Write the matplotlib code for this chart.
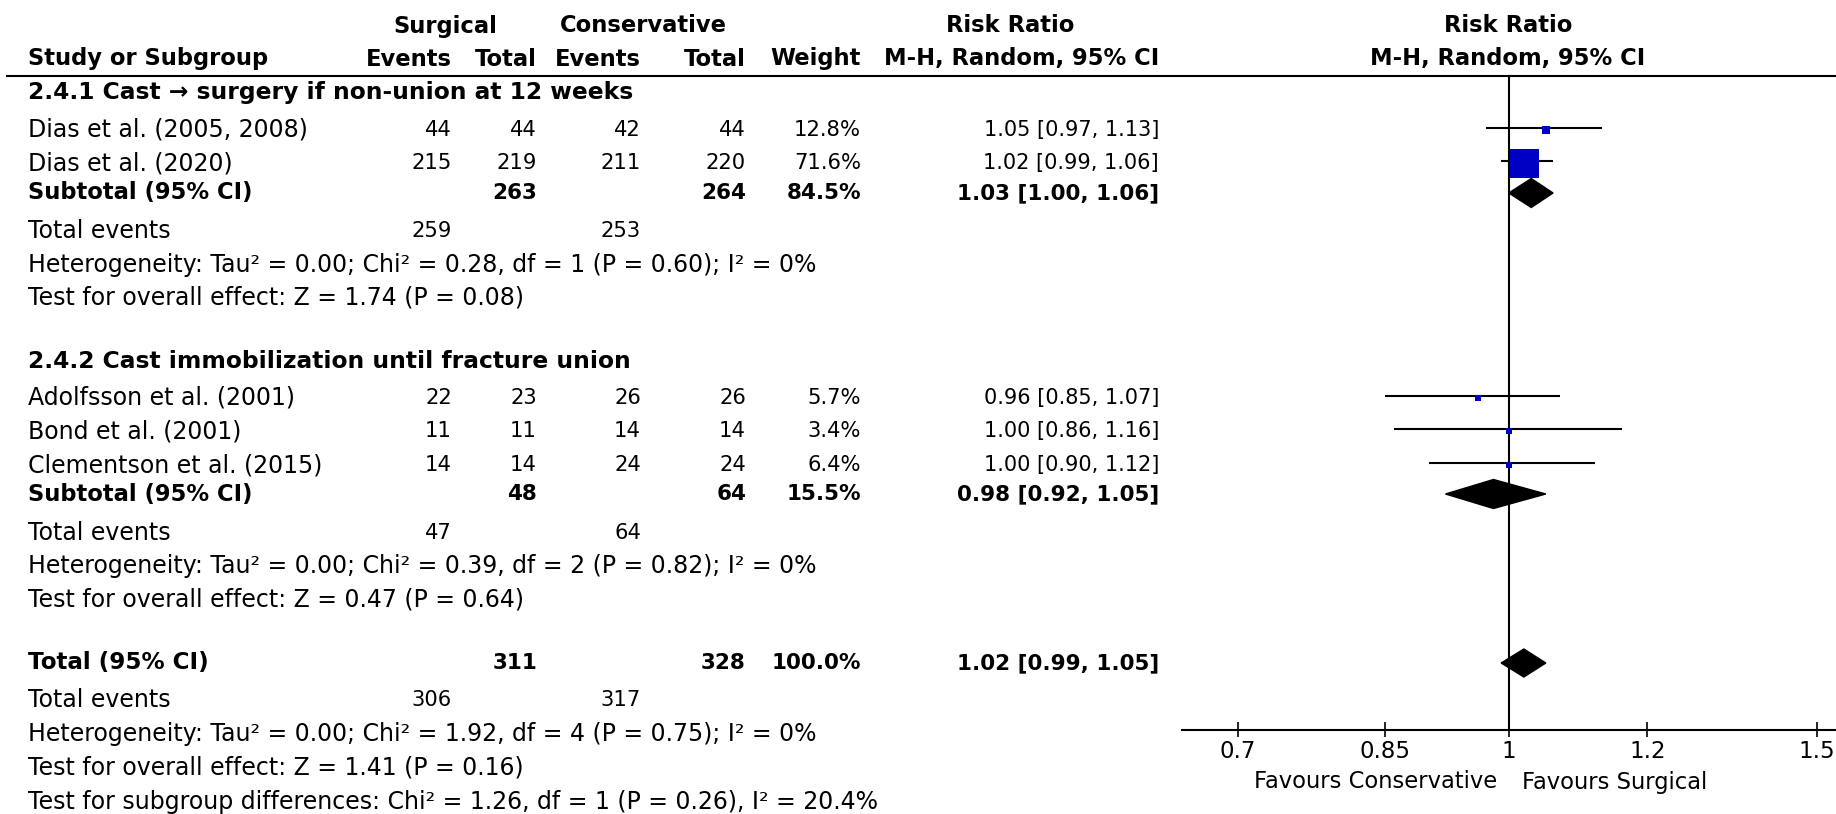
import numpy as np
import matplotlib
matplotlib.use("Agg")
import matplotlib.pyplot as plt
from matplotlib.patches import Polygon
from matplotlib.lines import Line2D

plt.rcParams['font.family'] = ['DejaVu Sans']

# study level data
studies = ["Dias et al. (2005, 2008)", "Dias et al. (2020)",
           "Adolfsson et al. (2001)", "Bond et al. (2001)", "Clementson et al. (2015)"]
surg_events = [44, 215, 22, 11, 14]
surg_total = [44, 219, 23, 11, 14]
cons_events = [42, 211, 26, 14, 24]
cons_total = [44, 220, 26, 14, 24]
weights = [12.8, 71.6, 5.7, 3.4, 6.4]
rr = [1.05, 1.02, 0.96, 1.00, 1.00]
rr_lo = [0.97, 0.99, 0.85, 0.86, 0.90]
rr_hi = [1.13, 1.06, 1.07, 1.16, 1.12]

# subgroups
groups = ["2.4.1 Cast \u2192 surgery if non-union at 12 weeks",
          "2.4.2 Cast immobilization until fracture union"]
group_studies = [[0, 1], [2, 3, 4]]
sub_surg_total = [263, 48]
sub_cons_total = [264, 64]
sub_weight = [84.5, 15.5]
sub_rr = [1.03, 0.98]
sub_lo = [1.00, 0.92]
sub_hi = [1.06, 1.05]
sub_surg_events = [259, 47]
sub_cons_events = [253, 64]
sub_tau2 = [0.00, 0.00]
sub_chi2 = [0.28, 0.39]
sub_df = [1, 2]
sub_p_het = [0.60, 0.82]
sub_i2 = [0, 0]
sub_z = [1.74, 0.47]
sub_p_z = [0.08, 0.64]

# overall
tot_surg_total, tot_cons_total = 311, 328
tot_rr, tot_lo, tot_hi = 1.02, 0.99, 1.05
tot_surg_events, tot_cons_events = 306, 317
tot_tau2, tot_chi2, tot_df, tot_p_het, tot_i2 = 0.00, 1.92, 4, 0.75, 0
tot_z, tot_p_z = 1.41, 0.16
diff_chi2, diff_df, diff_p, diff_i2 = 1.26, 1, 0.26, 20.4

ticks = [0.7, 0.85, 1, 1.2, 1.5]
tick_labels = ["0.7", "0.85", "1", "1.2", "1.5"]

# ---- layout (pixel rows / columns) ----
W, H = 1836, 814
col_name, col_se, col_st, col_ce, col_ct, col_w, col_rr = 28, 452, 537, 641, 746, 861, 1159
y_head1, y_head2, y_line = 26, 59, 76
y_group = [92, 361]
y_study = [[130, 163], [398, 431, 465]]
y_sub = [193, 494]
y_events = [231, 533]
y_het = [265, 566]
y_test = [298, 600]
y_total, y_tot_events, y_tot_het, y_tot_test, y_diff = 663, 700, 734, 768, 802
y_axis = 730
fs_lab = 17       # plain labels
fs_num = 15.2     # numbers
fs_rr = 15        # plain risk ratio text
fs_head = 16.3    # bold headers
fs_grp = 16.8     # subgroup titles
blue = '#0000C4'

fig = plt.figure(figsize=(W / 100, H / 100), dpi=100)
tab = fig.add_axes([0, 0, 1, 1])
tab.set_xlim(0, W)
tab.set_ylim(H, 0)
tab.axis('off')

x0 = 1181.6
fa = fig.add_axes([x0 / W, 0, 1 - x0 / W, 1])
fa.set_xscale('log')
fa.set_xlim(0.65, 1 / 0.65)
fa.set_ylim(H, 0)
fa.axis('off')


def txt(x, y, s, ha='left', bold=False, size=fs_num):
    tab.text(x, y, s, ha=ha, va='center', fontsize=size,
             fontweight='bold' if bold else 'normal', color='black')


def ci(lo, est, hi):
    return f"{est:.2f} [{lo:.2f}, {hi:.2f}]"


# headers
txt(445, y_head1, "Surgical", ha='center', bold=True, size=fs_head)
txt(643, y_head1, "Conservative", ha='center', bold=True, size=fs_head)
txt(1010, y_head1, "Risk Ratio", ha='center', bold=True, size=fs_head)
txt(1508, y_head1, "Risk Ratio", ha='center', bold=True, size=fs_head)
txt(col_name, y_head2, "Study or Subgroup", bold=True, size=fs_head)
txt(col_se, y_head2, "Events", ha='right', bold=True, size=fs_head)
txt(col_st, y_head2, "Total", ha='right', bold=True, size=fs_head)
txt(col_ce, y_head2, "Events", ha='right', bold=True, size=fs_head)
txt(col_ct, y_head2, "Total", ha='right', bold=True, size=fs_head)
txt(col_w, y_head2, "Weight", ha='right', bold=True, size=fs_head)
txt(col_rr, y_head2, "M-H, Random, 95% CI", ha='right', bold=True, size=fs_head)
txt(1508, y_head2, "M-H, Random, 95% CI", ha='center', bold=True, size=fs_head)
fig.add_artist(Line2D([7 / W, 1], [1 - y_line / H] * 2, color='black', lw=1.5))

for g in range(len(groups)):
    txt(col_name, y_group[g], groups[g], bold=True, size=fs_grp)
    for k, i in enumerate(group_studies[g]):
        y = y_study[g][k]
        txt(col_name, y, studies[i], size=fs_lab)
        txt(col_se, y, str(surg_events[i]), ha='right')
        txt(col_st, y, str(surg_total[i]), ha='right')
        txt(col_ce, y, str(cons_events[i]), ha='right')
        txt(col_ct, y, str(cons_total[i]), ha='right')
        txt(col_w, y, f"{weights[i]:.1f}%", ha='right')
        txt(col_rr, y, ci(rr_lo[i], rr[i], rr_hi[i]), ha='right', size=fs_rr)
        fa.plot([rr_lo[i], rr_hi[i]], [y - 2.5, y - 2.5], color='black', lw=1.5,
                solid_capstyle='butt')
        side = max(6.5, 29 * (weights[i] / 71.6) ** 0.68) * 0.72
        fa.scatter([rr[i]], [y], marker='s', s=side ** 2, color=blue,
                   linewidths=0, zorder=3)
    y = y_sub[g]
    txt(col_name, y, "Subtotal (95% CI)", bold=True, size=fs_head)
    txt(col_st, y, str(sub_surg_total[g]), ha='right', bold=True, size=15.5)
    txt(col_ct, y, str(sub_cons_total[g]), ha='right', bold=True, size=15.5)
    txt(col_w, y, f"{sub_weight[g]:.1f}%", ha='right', bold=True, size=15.5)
    txt(col_rr, y, ci(sub_lo[g], sub_rr[g], sub_hi[g]), ha='right', bold=True, size=15.5)
    fa.add_patch(Polygon([(sub_lo[g], y), (sub_rr[g], y - 14.5),
                          (sub_hi[g], y), (sub_rr[g], y + 14.5)],
                         closed=True, color='black', zorder=3))
    txt(col_name, y_events[g], "Total events", size=fs_lab)
    txt(col_se, y_events[g], str(sub_surg_events[g]), ha='right')
    txt(col_ce, y_events[g], str(sub_cons_events[g]), ha='right')
    txt(col_name, y_het[g],
        f"Heterogeneity: Tau\u00b2 = {sub_tau2[g]:.2f}; Chi\u00b2 = {sub_chi2[g]:.2f}, "
        f"df = {sub_df[g]} (P = {sub_p_het[g]:.2f}); I\u00b2 = {sub_i2[g]}%", size=fs_lab)
    txt(col_name, y_test[g],
        f"Test for overall effect: Z = {sub_z[g]:.2f} (P = {sub_p_z[g]:.2f})", size=fs_lab)

# overall rows
txt(col_name, y_total, "Total (95% CI)", bold=True, size=16.6)
txt(col_st, y_total, str(tot_surg_total), ha='right', bold=True, size=15.5)
txt(col_ct, y_total, str(tot_cons_total), ha='right', bold=True, size=15.5)
txt(col_w, y_total, "100.0%", ha='right', bold=True, size=15.5)
txt(col_rr, y_total, ci(tot_lo, tot_rr, tot_hi), ha='right', bold=True, size=15.5)
fa.add_patch(Polygon([(tot_lo, y_total), (tot_rr, y_total - 14),
                      (tot_hi, y_total), (tot_rr, y_total + 14)],
                     closed=True, color='black', zorder=3))
txt(col_name, y_tot_events, "Total events", size=fs_lab)
txt(col_se, y_tot_events, str(tot_surg_events), ha='right')
txt(col_ce, y_tot_events, str(tot_cons_events), ha='right')
txt(col_name, y_tot_het,
    f"Heterogeneity: Tau\u00b2 = {tot_tau2:.2f}; Chi\u00b2 = {tot_chi2:.2f}, "
    f"df = {tot_df} (P = {tot_p_het:.2f}); I\u00b2 = {tot_i2}%", size=fs_lab)
txt(col_name, y_tot_test,
    f"Test for overall effect: Z = {tot_z:.2f} (P = {tot_p_z:.2f})", size=fs_lab)
txt(col_name, y_diff,
    f"Test for subgroup differences: Chi\u00b2 = {diff_chi2:.2f}, df = {diff_df} "
    f"(P = {diff_p:.2f}), I\u00b2 = {diff_i2:.1f}%", size=fs_lab)

# forest axis
fa.plot([1, 1], [y_line, y_axis], color='black', lw=1.5, zorder=2)
fa.plot([0.65, 1 / 0.65], [y_axis, y_axis], color='black', lw=1.5, clip_on=False)
fa.vlines(ticks, y_axis - 8, y_axis + 7, color='black', lw=1.2)
for t, lab in zip(ticks, tick_labels):
    fa.text(t, y_axis + 21, lab, ha='center', va='center', fontsize=16.5)
fa.text(0.985, y_axis + 52, "Favours Conservative", ha='right', va='center', fontsize=16.3)
fa.text(1.017, y_axis + 52, "Favours Surgical", ha='left', va='center', fontsize=16.3)

fig.savefig("out.png", dpi=100)
